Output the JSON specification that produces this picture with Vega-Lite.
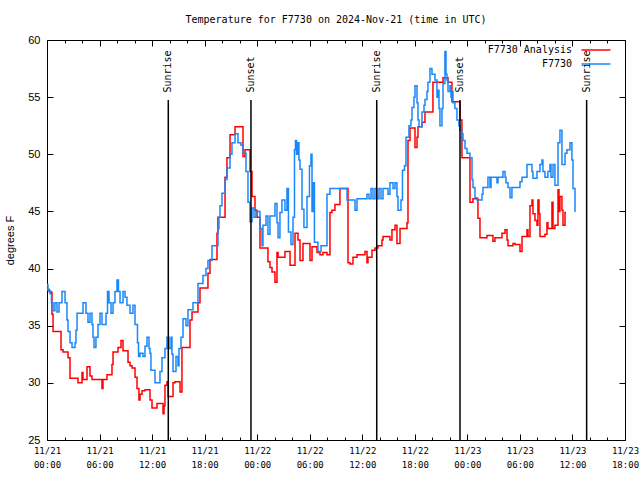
{
"$schema": "https://vega.github.io/schema/vega-lite/v6.json",
"width": 578, "height": 400,
"autosize": "none",
"padding": {"left": 47, "top": 40, "right": 15, "bottom": 40},
"title": {"text": "Temperature for F7730 on 2024-Nov-21 (time in UTC)", "font": "DejaVu Sans Mono", "fontSize": 10, "fontWeight": "normal", "color": "black", "offset": 9},
"config": {
  "view": {"stroke": "black", "strokeWidth": 1},
  "axis": {"domain": false, "grid": false, "tickColor": "black", "labelColor": "black", "titleColor": "black", "tickWidth": 1}
},
"datasets": {
"temps": [
{"series":"F7730 Analysis","hour":0,"temp":38.2},{"series":"F7730 Analysis","hour":0.23,"temp":38.0},{"series":"F7730 Analysis","hour":0.46,"temp":37.9},{"series":"F7730 Analysis","hour":0.57,"temp":36.0},{"series":"F7730 Analysis","hour":0.69,"temp":34.5},{"series":"F7730 Analysis","hour":1.6,"temp":32.9},{"series":"F7730 Analysis","hour":1.83,"temp":32.7},{"series":"F7730 Analysis","hour":2.4,"temp":32.2},{"series":"F7730 Analysis","hour":2.63,"temp":30.4},{"series":"F7730 Analysis","hour":3.54,"temp":30.0},{"series":"F7730 Analysis","hour":4.0,"temp":30.9},{"series":"F7730 Analysis","hour":4.11,"temp":30.3},{"series":"F7730 Analysis","hour":4.57,"temp":31.4},{"series":"F7730 Analysis","hour":4.91,"temp":30.6},{"series":"F7730 Analysis","hour":5.14,"temp":30.3},{"series":"F7730 Analysis","hour":6.28,"temp":29.5},{"series":"F7730 Analysis","hour":6.39,"temp":30.3},{"series":"F7730 Analysis","hour":6.85,"temp":30.7},{"series":"F7730 Analysis","hour":7.42,"temp":31.6},{"series":"F7730 Analysis","hour":7.54,"temp":32.7},{"series":"F7730 Analysis","hour":8.11,"temp":33.1},{"series":"F7730 Analysis","hour":8.45,"temp":33.7},{"series":"F7730 Analysis","hour":8.68,"temp":32.8},{"series":"F7730 Analysis","hour":9.25,"temp":31.8},{"series":"F7730 Analysis","hour":9.48,"temp":31.5},{"series":"F7730 Analysis","hour":9.71,"temp":31.3},{"series":"F7730 Analysis","hour":10.05,"temp":30.5},{"series":"F7730 Analysis","hour":10.28,"temp":29.5},{"series":"F7730 Analysis","hour":10.5,"temp":28.5},{"series":"F7730 Analysis","hour":10.62,"temp":29.0},{"series":"F7730 Analysis","hour":10.85,"temp":29.3},{"series":"F7730 Analysis","hour":11.19,"temp":29.4},{"series":"F7730 Analysis","hour":11.76,"temp":28.5},{"series":"F7730 Analysis","hour":11.99,"temp":27.8},{"series":"F7730 Analysis","hour":12.56,"temp":28.2},{"series":"F7730 Analysis","hour":13.25,"temp":27.3},{"series":"F7730 Analysis","hour":13.36,"temp":28.0},{"series":"F7730 Analysis","hour":13.47,"temp":29.8},{"series":"F7730 Analysis","hour":13.7,"temp":30.1},{"series":"F7730 Analysis","hour":13.82,"temp":28.8},{"series":"F7730 Analysis","hour":14.39,"temp":30.0},{"series":"F7730 Analysis","hour":14.62,"temp":30.1},{"series":"F7730 Analysis","hour":15.19,"temp":29.2},{"series":"F7730 Analysis","hour":15.41,"temp":33.1},{"series":"F7730 Analysis","hour":16.33,"temp":35.5},{"series":"F7730 Analysis","hour":16.56,"temp":36.2},{"series":"F7730 Analysis","hour":17.24,"temp":37.0},{"series":"F7730 Analysis","hour":17.47,"temp":38.3},{"series":"F7730 Analysis","hour":18.38,"temp":39.6},{"series":"F7730 Analysis","hour":18.61,"temp":40.8},{"series":"F7730 Analysis","hour":19.41,"temp":43.1},{"series":"F7730 Analysis","hour":19.52,"temp":44.5},{"series":"F7730 Analysis","hour":20.33,"temp":48.0},{"series":"F7730 Analysis","hour":20.55,"temp":49.7},{"series":"F7730 Analysis","hour":20.9,"temp":51.7},{"series":"F7730 Analysis","hour":21.47,"temp":52.4},{"series":"F7730 Analysis","hour":22.38,"temp":49.8},{"series":"F7730 Analysis","hour":22.61,"temp":50.4},{"series":"F7730 Analysis","hour":23.18,"temp":48.5},{"series":"F7730 Analysis","hour":23.41,"temp":46.3},{"series":"F7730 Analysis","hour":23.75,"temp":45.1},{"series":"F7730 Analysis","hour":23.98,"temp":44.5},{"series":"F7730 Analysis","hour":24.32,"temp":41.8},{"series":"F7730 Analysis","hour":25.23,"temp":40.6},{"series":"F7730 Analysis","hour":25.46,"temp":40.1},{"series":"F7730 Analysis","hour":25.69,"temp":39.7},{"series":"F7730 Analysis","hour":26.03,"temp":38.8},{"series":"F7730 Analysis","hour":26.26,"temp":41.4},{"series":"F7730 Analysis","hour":26.38,"temp":41.0},{"series":"F7730 Analysis","hour":27.17,"temp":41.5},{"series":"F7730 Analysis","hour":27.75,"temp":40.3},{"series":"F7730 Analysis","hour":28.32,"temp":43.1},{"series":"F7730 Analysis","hour":28.66,"temp":42.5},{"series":"F7730 Analysis","hour":28.89,"temp":40.7},{"series":"F7730 Analysis","hour":29.23,"temp":42.2},{"series":"F7730 Analysis","hour":30.03,"temp":40.7},{"series":"F7730 Analysis","hour":30.26,"temp":41.9},{"series":"F7730 Analysis","hour":30.83,"temp":41.4},{"series":"F7730 Analysis","hour":31.17,"temp":41.2},{"series":"F7730 Analysis","hour":31.51,"temp":41.4},{"series":"F7730 Analysis","hour":31.97,"temp":41.2},{"series":"F7730 Analysis","hour":32.31,"temp":44.9},{"series":"F7730 Analysis","hour":32.54,"temp":45.1},{"series":"F7730 Analysis","hour":32.88,"temp":45.6},{"series":"F7730 Analysis","hour":33.45,"temp":47.0},{"series":"F7730 Analysis","hour":34.37,"temp":40.5},{"series":"F7730 Analysis","hour":34.6,"temp":40.4},{"series":"F7730 Analysis","hour":34.94,"temp":41.0},{"series":"F7730 Analysis","hour":35.4,"temp":41.2},{"series":"F7730 Analysis","hour":36.31,"temp":41.5},{"series":"F7730 Analysis","hour":36.54,"temp":40.5},{"series":"F7730 Analysis","hour":36.65,"temp":41.0},{"series":"F7730 Analysis","hour":37.11,"temp":41.6},{"series":"F7730 Analysis","hour":37.45,"temp":41.8},{"series":"F7730 Analysis","hour":37.79,"temp":42.0},{"series":"F7730 Analysis","hour":38.25,"temp":42.5},{"series":"F7730 Analysis","hour":38.37,"temp":42.8},{"series":"F7730 Analysis","hour":39.16,"temp":42.5},{"series":"F7730 Analysis","hour":39.39,"temp":43.4},{"series":"F7730 Analysis","hour":39.74,"temp":43.8},{"series":"F7730 Analysis","hour":39.96,"temp":42.2},{"series":"F7730 Analysis","hour":40.31,"temp":43.5},{"series":"F7730 Analysis","hour":41.11,"temp":44.0},{"series":"F7730 Analysis","hour":41.22,"temp":51.2},{"series":"F7730 Analysis","hour":41.45,"temp":52.3},{"series":"F7730 Analysis","hour":42.02,"temp":50.6},{"series":"F7730 Analysis","hour":42.25,"temp":51.5},{"series":"F7730 Analysis","hour":42.36,"temp":52.4},{"series":"F7730 Analysis","hour":42.82,"temp":52.8},{"series":"F7730 Analysis","hour":43.16,"temp":53.7},{"series":"F7730 Analysis","hour":44.07,"temp":56.3},{"series":"F7730 Analysis","hour":45.22,"temp":56.7},{"series":"F7730 Analysis","hour":45.79,"temp":56.3},{"series":"F7730 Analysis","hour":46.24,"temp":54.6},{"series":"F7730 Analysis","hour":47.16,"temp":53.0},{"series":"F7730 Analysis","hour":47.38,"temp":49.7},{"series":"F7730 Analysis","hour":48.3,"temp":45.8},{"series":"F7730 Analysis","hour":48.64,"temp":46.1},{"series":"F7730 Analysis","hour":49.21,"temp":44.4},{"series":"F7730 Analysis","hour":49.44,"temp":42.7},{"series":"F7730 Analysis","hour":50.24,"temp":42.9},{"series":"F7730 Analysis","hour":50.92,"temp":42.4},{"series":"F7730 Analysis","hour":51.15,"temp":42.7},{"series":"F7730 Analysis","hour":51.95,"temp":43.1},{"series":"F7730 Analysis","hour":52.3,"temp":43.4},{"series":"F7730 Analysis","hour":52.53,"temp":42.5},{"series":"F7730 Analysis","hour":52.64,"temp":42.0},{"series":"F7730 Analysis","hour":53.21,"temp":42.2},{"series":"F7730 Analysis","hour":53.44,"temp":42.1},{"series":"F7730 Analysis","hour":54.01,"temp":41.5},{"series":"F7730 Analysis","hour":54.24,"temp":42.8},{"series":"F7730 Analysis","hour":54.81,"temp":43.4},{"series":"F7730 Analysis","hour":54.92,"temp":42.8},{"series":"F7730 Analysis","hour":55.15,"temp":45.5},{"series":"F7730 Analysis","hour":55.38,"temp":46.0},{"series":"F7730 Analysis","hour":55.49,"temp":44.8},{"series":"F7730 Analysis","hour":55.72,"temp":44.2},{"series":"F7730 Analysis","hour":55.95,"temp":43.8},{"series":"F7730 Analysis","hour":56.06,"temp":46.0},{"series":"F7730 Analysis","hour":56.18,"temp":44.8},{"series":"F7730 Analysis","hour":56.29,"temp":42.8},{"series":"F7730 Analysis","hour":56.86,"temp":43.0},{"series":"F7730 Analysis","hour":57.09,"temp":44.0},{"series":"F7730 Analysis","hour":57.2,"temp":43.5},{"series":"F7730 Analysis","hour":57.66,"temp":45.8},{"series":"F7730 Analysis","hour":57.78,"temp":43.5},{"series":"F7730 Analysis","hour":58.0,"temp":43.8},{"series":"F7730 Analysis","hour":58.35,"temp":46.9},{"series":"F7730 Analysis","hour":58.46,"temp":45.0},{"series":"F7730 Analysis","hour":58.57,"temp":46.3},{"series":"F7730 Analysis","hour":58.8,"temp":45.1},{"series":"F7730 Analysis","hour":58.92,"temp":43.8},{"series":"F7730 Analysis","hour":59.15,"temp":44.9},{"series":"F7730 Analysis","hour":59.26,"temp":44.9},
{"series":"F7730","hour":0,"temp":38.6},{"series":"F7730","hour":0.11,"temp":38.1},{"series":"F7730","hour":0.34,"temp":37.8},{"series":"F7730","hour":0.51,"temp":37.0},{"series":"F7730","hour":0.69,"temp":36.3},{"series":"F7730","hour":0.91,"temp":37.0},{"series":"F7730","hour":1.14,"temp":36.2},{"series":"F7730","hour":1.37,"temp":37.0},{"series":"F7730","hour":1.71,"temp":38.0},{"series":"F7730","hour":2.06,"temp":37.0},{"series":"F7730","hour":2.28,"temp":35.5},{"series":"F7730","hour":2.4,"temp":34.5},{"series":"F7730","hour":2.63,"temp":33.5},{"series":"F7730","hour":2.86,"temp":33.1},{"series":"F7730","hour":3.2,"temp":33.5},{"series":"F7730","hour":3.31,"temp":34.6},{"series":"F7730","hour":3.43,"temp":36.1},{"series":"F7730","hour":4.11,"temp":37.0},{"series":"F7730","hour":4.45,"temp":36.1},{"series":"F7730","hour":4.68,"temp":35.3},{"series":"F7730","hour":4.91,"temp":36.1},{"series":"F7730","hour":5.14,"temp":35.1},{"series":"F7730","hour":5.25,"temp":34.0},{"series":"F7730","hour":5.37,"temp":33.1},{"series":"F7730","hour":5.59,"temp":34.0},{"series":"F7730","hour":5.82,"temp":35.1},{"series":"F7730","hour":6.05,"temp":36.1},{"series":"F7730","hour":6.28,"temp":35.1},{"series":"F7730","hour":6.74,"temp":36.1},{"series":"F7730","hour":6.91,"temp":38.0},{"series":"F7730","hour":7.08,"temp":37.0},{"series":"F7730","hour":7.31,"temp":36.1},{"series":"F7730","hour":7.54,"temp":37.0},{"series":"F7730","hour":7.76,"temp":38.0},{"series":"F7730","hour":7.99,"temp":39.0},{"series":"F7730","hour":8.16,"temp":38.0},{"series":"F7730","hour":8.34,"temp":37.0},{"series":"F7730","hour":8.68,"temp":38.0},{"series":"F7730","hour":8.91,"temp":37.5},{"series":"F7730","hour":9.13,"temp":36.8},{"series":"F7730","hour":9.48,"temp":36.1},{"series":"F7730","hour":9.82,"temp":36.8},{"series":"F7730","hour":10.05,"temp":35.1},{"series":"F7730","hour":10.33,"temp":33.5},{"series":"F7730","hour":10.45,"temp":32.3},{"series":"F7730","hour":10.62,"temp":32.6},{"series":"F7730","hour":10.96,"temp":32.3},{"series":"F7730","hour":11.19,"temp":33.2},{"series":"F7730","hour":11.42,"temp":34.0},{"series":"F7730","hour":11.65,"temp":33.0},{"series":"F7730","hour":11.76,"temp":32.6},{"series":"F7730","hour":11.87,"temp":31.1},{"series":"F7730","hour":12.33,"temp":30.0},{"series":"F7730","hour":12.9,"temp":31.0},{"series":"F7730","hour":13.13,"temp":32.2},{"series":"F7730","hour":13.47,"temp":33.0},{"series":"F7730","hour":13.7,"temp":34.0},{"series":"F7730","hour":13.93,"temp":33.0},{"series":"F7730","hour":14.16,"temp":34.0},{"series":"F7730","hour":14.27,"temp":32.5},{"series":"F7730","hour":14.39,"temp":31.0},{"series":"F7730","hour":14.73,"temp":32.3},{"series":"F7730","hour":14.96,"temp":31.5},{"series":"F7730","hour":15.07,"temp":33.0},{"series":"F7730","hour":15.3,"temp":34.0},{"series":"F7730","hour":15.53,"temp":35.6},{"series":"F7730","hour":15.87,"temp":35.0},{"series":"F7730","hour":16.1,"temp":36.4},{"series":"F7730","hour":16.67,"temp":37.0},{"series":"F7730","hour":17.24,"temp":38.7},{"series":"F7730","hour":17.81,"temp":39.4},{"series":"F7730","hour":18.15,"temp":40.0},{"series":"F7730","hour":18.38,"temp":40.7},{"series":"F7730","hour":18.84,"temp":42.0},{"series":"F7730","hour":19.52,"temp":43.5},{"series":"F7730","hour":19.64,"temp":44.5},{"series":"F7730","hour":19.75,"temp":45.5},{"series":"F7730","hour":19.98,"temp":46.6},{"series":"F7730","hour":20.33,"temp":47.8},{"series":"F7730","hour":20.55,"temp":48.8},{"series":"F7730","hour":20.9,"temp":50.0},{"series":"F7730","hour":21.12,"temp":51.0},{"series":"F7730","hour":21.47,"temp":51.8},{"series":"F7730","hour":21.81,"temp":51.0},{"series":"F7730","hour":22.15,"temp":50.8},{"series":"F7730","hour":22.38,"temp":50.1},{"series":"F7730","hour":22.72,"temp":48.5},{"series":"F7730","hour":22.95,"temp":45.8},{"series":"F7730","hour":23.18,"temp":44.1},{"series":"F7730","hour":23.41,"temp":45.3},{"series":"F7730","hour":23.64,"temp":44.5},{"series":"F7730","hour":23.86,"temp":45.0},{"series":"F7730","hour":24.32,"temp":43.5},{"series":"F7730","hour":24.55,"temp":42.0},{"series":"F7730","hour":24.66,"temp":43.8},{"series":"F7730","hour":25.01,"temp":44.6},{"series":"F7730","hour":25.23,"temp":43.0},{"series":"F7730","hour":25.46,"temp":44.6},{"series":"F7730","hour":26.03,"temp":45.7},{"series":"F7730","hour":26.26,"temp":44.0},{"series":"F7730","hour":26.38,"temp":42.7},{"series":"F7730","hour":26.6,"temp":44.9},{"series":"F7730","hour":26.83,"temp":46.0},{"series":"F7730","hour":27.17,"temp":45.1},{"series":"F7730","hour":27.4,"temp":47.0},{"series":"F7730","hour":27.57,"temp":43.2},{"series":"F7730","hour":27.86,"temp":42.1},{"series":"F7730","hour":28.09,"temp":44.5},{"series":"F7730","hour":28.26,"temp":50.4},{"series":"F7730","hour":28.37,"temp":51.2},{"series":"F7730","hour":28.49,"temp":50.0},{"series":"F7730","hour":28.6,"temp":51.0},{"series":"F7730","hour":28.77,"temp":49.5},{"series":"F7730","hour":28.89,"temp":48.7},{"series":"F7730","hour":29.12,"temp":45.2},{"series":"F7730","hour":29.34,"temp":43.6},{"series":"F7730","hour":29.69,"temp":46.3},{"series":"F7730","hour":29.97,"temp":49.0},{"series":"F7730","hour":30.14,"temp":50.0},{"series":"F7730","hour":30.26,"temp":45.0},{"series":"F7730","hour":30.37,"temp":47.5},{"series":"F7730","hour":30.54,"temp":42.3},{"series":"F7730","hour":30.94,"temp":41.5},{"series":"F7730","hour":31.29,"temp":42.0},{"series":"F7730","hour":31.97,"temp":46.5},{"series":"F7730","hour":32.31,"temp":47.0},{"series":"F7730","hour":34.26,"temp":46.0},{"series":"F7730","hour":35.17,"temp":45.1},{"series":"F7730","hour":35.4,"temp":46.1},{"series":"F7730","hour":36.54,"temp":46.5},{"series":"F7730","hour":36.77,"temp":46.1},{"series":"F7730","hour":37.0,"temp":47.0},{"series":"F7730","hour":37.22,"temp":46.1},{"series":"F7730","hour":37.45,"temp":47.0},{"series":"F7730","hour":37.68,"temp":46.1},{"series":"F7730","hour":37.91,"temp":47.0},{"series":"F7730","hour":38.14,"temp":46.1},{"series":"F7730","hour":38.37,"temp":47.0},{"series":"F7730","hour":38.94,"temp":46.5},{"series":"F7730","hour":39.16,"temp":47.5},{"series":"F7730","hour":39.51,"temp":47.0},{"series":"F7730","hour":39.74,"temp":47.5},{"series":"F7730","hour":39.96,"temp":46.3},{"series":"F7730","hour":40.08,"temp":45.1},{"series":"F7730","hour":40.42,"temp":46.0},{"series":"F7730","hour":40.59,"temp":48.6},{"series":"F7730","hour":40.82,"temp":49.0},{"series":"F7730","hour":40.99,"temp":51.5},{"series":"F7730","hour":41.33,"temp":52.5},{"series":"F7730","hour":41.56,"temp":53.0},{"series":"F7730","hour":41.68,"temp":54.1},{"series":"F7730","hour":41.9,"temp":55.0},{"series":"F7730","hour":42.02,"temp":56.0},{"series":"F7730","hour":42.25,"temp":54.5},{"series":"F7730","hour":42.36,"temp":53.0},{"series":"F7730","hour":42.48,"temp":52.4},{"series":"F7730","hour":42.82,"temp":53.7},{"series":"F7730","hour":43.05,"temp":54.3},{"series":"F7730","hour":43.16,"temp":54.8},{"series":"F7730","hour":43.39,"temp":55.5},{"series":"F7730","hour":43.5,"temp":56.3},{"series":"F7730","hour":43.73,"temp":57.5},{"series":"F7730","hour":43.96,"temp":57.0},{"series":"F7730","hour":44.3,"temp":56.5},{"series":"F7730","hour":44.53,"temp":55.0},{"series":"F7730","hour":44.64,"temp":55.6},{"series":"F7730","hour":44.76,"temp":54.0},{"series":"F7730","hour":44.87,"temp":52.5},{"series":"F7730","hour":45.1,"temp":54.0},{"series":"F7730","hour":45.22,"temp":56.2},{"series":"F7730","hour":45.44,"temp":59.0},{"series":"F7730","hour":45.56,"temp":57.0},{"series":"F7730","hour":45.67,"temp":56.5},{"series":"F7730","hour":45.79,"temp":55.5},{"series":"F7730","hour":46.01,"temp":56.0},{"series":"F7730","hour":46.13,"temp":55.0},{"series":"F7730","hour":46.24,"temp":55.5},{"series":"F7730","hour":46.36,"temp":54.5},{"series":"F7730","hour":46.58,"temp":54.0},{"series":"F7730","hour":46.81,"temp":53.0},{"series":"F7730","hour":47.04,"temp":52.5},{"series":"F7730","hour":47.16,"temp":52.1},{"series":"F7730","hour":47.38,"temp":51.8},{"series":"F7730","hour":47.5,"temp":51.2},{"series":"F7730","hour":47.73,"temp":50.5},{"series":"F7730","hour":47.96,"temp":50.1},{"series":"F7730","hour":48.3,"temp":49.7},{"series":"F7730","hour":48.53,"temp":47.8},{"series":"F7730","hour":48.64,"temp":47.1},{"series":"F7730","hour":48.87,"temp":46.2},{"series":"F7730","hour":49.1,"temp":46.0},{"series":"F7730","hour":49.67,"temp":46.5},{"series":"F7730","hour":49.78,"temp":47.1},{"series":"F7730","hour":50.35,"temp":48.0},{"series":"F7730","hour":50.58,"temp":47.1},{"series":"F7730","hour":50.7,"temp":48.0},{"series":"F7730","hour":51.38,"temp":47.5},{"series":"F7730","hour":51.5,"temp":48.0},{"series":"F7730","hour":52.07,"temp":48.5},{"series":"F7730","hour":52.3,"temp":48.0},{"series":"F7730","hour":52.41,"temp":47.5},{"series":"F7730","hour":52.64,"temp":47.1},{"series":"F7730","hour":52.87,"temp":46.2},{"series":"F7730","hour":53.09,"temp":47.1},{"series":"F7730","hour":54.01,"temp":47.6},{"series":"F7730","hour":54.24,"temp":48.0},{"series":"F7730","hour":54.81,"temp":49.1},{"series":"F7730","hour":55.38,"temp":48.5},{"series":"F7730","hour":55.49,"temp":47.9},{"series":"F7730","hour":55.95,"temp":48.5},{"series":"F7730","hour":56.29,"temp":49.1},{"series":"F7730","hour":56.52,"temp":49.5},{"series":"F7730","hour":56.63,"temp":48.5},{"series":"F7730","hour":56.86,"temp":48.0},{"series":"F7730","hour":57.2,"temp":48.5},{"series":"F7730","hour":57.43,"temp":49.1},{"series":"F7730","hour":57.55,"temp":48.0},{"series":"F7730","hour":57.78,"temp":49.1},{"series":"F7730","hour":58.0,"temp":47.3},{"series":"F7730","hour":58.35,"temp":51.0},{"series":"F7730","hour":58.57,"temp":52.1},{"series":"F7730","hour":58.8,"temp":49.1},{"series":"F7730","hour":59.15,"temp":50.1},{"series":"F7730","hour":59.37,"temp":50.4},{"series":"F7730","hour":59.72,"temp":51.0},{"series":"F7730","hour":59.94,"temp":49.5},{"series":"F7730","hour":60.06,"temp":47.0},{"series":"F7730","hour":60.29,"temp":45.0},{"series":"F7730","hour":60.34,"temp":45.0}
],
"sun": [
{"hour":13.85,"event":"Sunrise"},{"hour":23.29,"event":"Sunset"},{"hour":37.65,"event":"Sunrise"},{"hour":47.16,"event":"Sunset"},{"hour":61.62,"event":"Sunrise"}
]
},
"layer": [
{
  "data": {"name": "temps"},
  "transform": [{"filter": "datum.series == 'F7730 Analysis'"}],
  "mark": {"type": "line", "interpolate": "step-after", "strokeWidth": 1.5},
  "encoding": {
    "x": {"field": "hour", "type": "quantitative", "scale": {"domain": [0, 66], "nice": false, "zero": false},
      "axis": {"orient": "bottom", "title": null, "values": [0,6,12,18,24,30,36,42,48,54,60,66], "tickSize": -6, "labelPadding": 12, "labelFont": "DejaVu Sans Mono", "labelFontSize": 9, "labelLineHeight": 14, "labelFlush": false, "labelOverlap": false,
        "labelExpr": "['11/' + (21 + floor(datum.value / 24)), (datum.value % 24 < 10 ? '0' : '') + (datum.value % 24) + ':00']"}},
    "y": {"field": "temp", "type": "quantitative", "scale": {"domain": [25, 60], "nice": false, "zero": false},
      "axis": {"orient": "left", "title": "degrees F", "values": [25,30,35,40,45,50,55,60], "tickSize": -6, "labelPadding": 13, "labelFont": "Liberation Sans", "labelFontSize": 11, "labelFlush": false, "titleFont": "Liberation Sans", "titleFontSize": 11, "titleFontWeight": "normal", "titlePadding": 12}},
    "color": {"field": "series", "type": "nominal", "scale": {"domain": ["F7730 Analysis", "F7730"], "range": ["#ff0000", "#1a88f8"]},
      "legend": {"orient": "none", "legendX": 543, "legendY": 4, "title": null, "symbolType": "M-2.9,0H2.9", "symbolSize": 100, "symbolStrokeWidth": 1.5, "labelAlign": "right", "labelOffset": -30, "labelFont": "DejaVu Sans Mono", "labelFontSize": 10, "labelColor": "black", "rowPadding": 3, "padding": 0}}
  }
},
{
  "data": {"name": "temps"},
  "transform": [{"filter": "datum.series == 'F7730'"}],
  "mark": {"type": "line", "interpolate": "step-after", "strokeWidth": 1.5},
  "encoding": {
    "x": {"field": "hour", "type": "quantitative", "scale": {"domain": [0, 66], "nice": false, "zero": false},
      "axis": {"orient": "top", "title": null, "values": [0,6,12,18,24,30,36,42,48,54,60,66], "tickSize": -6, "labels": false}},
    "y": {"field": "temp", "type": "quantitative", "scale": {"domain": [25, 60], "nice": false, "zero": false},
      "axis": {"orient": "right", "title": null, "values": [25,30,35,40,45,50,55,60], "tickSize": -6, "labels": false}},
    "color": {"field": "series", "type": "nominal", "scale": {"domain": ["F7730 Analysis", "F7730"], "range": ["#ff0000", "#1a88f8"]},
      "legend": {"orient": "none", "legendX": 543, "legendY": 4, "title": null, "symbolType": "M-2.9,0H2.9", "symbolSize": 100, "symbolStrokeWidth": 1.5, "labelAlign": "right", "labelOffset": -30, "labelFont": "DejaVu Sans Mono", "labelFontSize": 10, "labelColor": "black", "rowPadding": 3, "padding": 0}}
  }
},
{
  "data": {"name": "sun"},
  "mark": {"type": "rule", "color": "black", "strokeWidth": 1.5},
  "encoding": {
    "x": {"field": "hour", "type": "quantitative", "scale": {"domain": [0, 66], "nice": false, "zero": false},
      "axis": {"orient": "bottom", "title": null, "values": [2,4,8,10,14,16,20,22,26,28,32,34,38,40,44,46,50,52,56,58,62,64], "tickSize": -3, "labels": false}},
    "y": {"datum": 25, "type": "quantitative", "axis": null},
    "y2": {"datum": 54.75}
  }
},
{
  "data": {"name": "sun"},
  "mark": {"type": "text", "angle": 270, "align": "left", "baseline": "middle", "font": "DejaVu Sans Mono", "fontSize": 10, "color": "black"},
  "encoding": {
    "x": {"field": "hour", "type": "quantitative", "scale": {"domain": [0, 66], "nice": false, "zero": false},
      "axis": {"orient": "top", "title": null, "values": [2,4,8,10,14,16,20,22,26,28,32,34,38,40,44,46,50,52,56,58,62,64], "tickSize": -3, "labels": false}},
    "y": {"datum": 55.4, "type": "quantitative", "axis": null},
    "text": {"field": "event"}
  }
}
],
"resolve": {"axis": {"x": "independent", "y": "independent"}}
}
